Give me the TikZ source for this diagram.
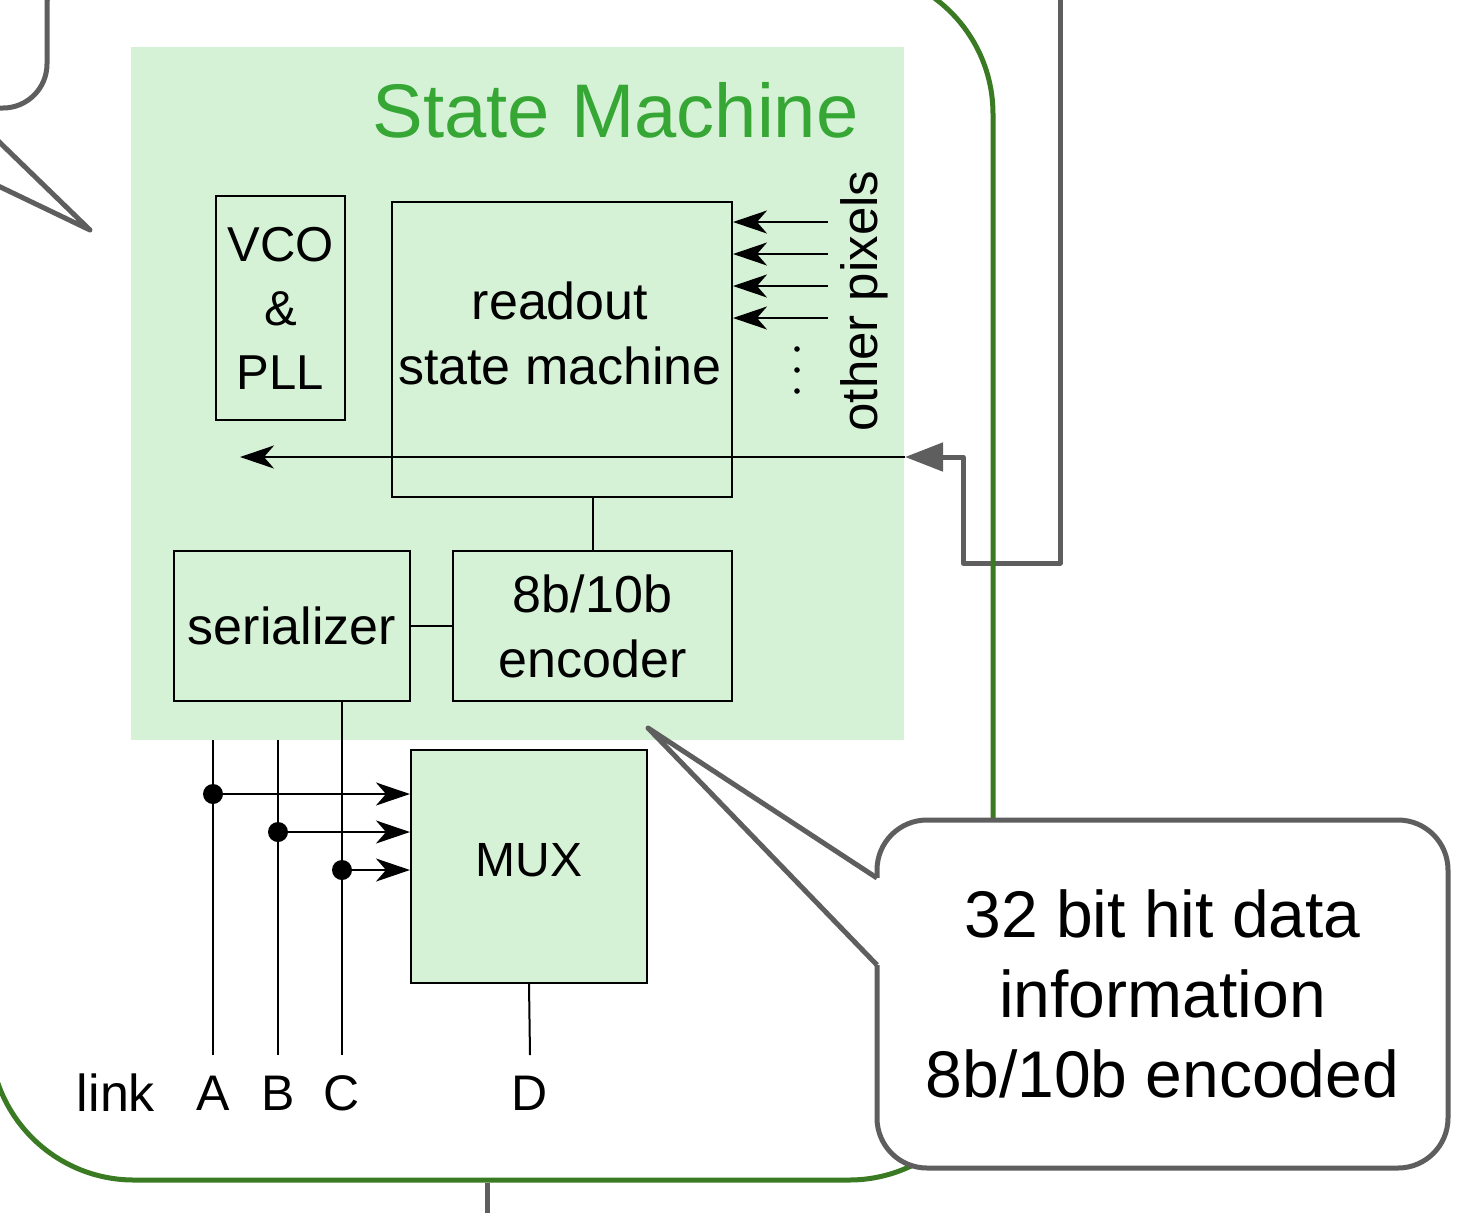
\documentclass[tikz,border=0pt]{standalone}
\usepackage{fontspec}
\setmainfont{Liberation Sans}
\usetikzlibrary{arrows.meta}
\definecolor{smfill}{HTML}{D6F2D6}
\definecolor{smtitle}{HTML}{36A635}
\definecolor{chipgreen}{HTML}{3A7A22}
\definecolor{callgray}{HTML}{5E5E5E}
\begin{document}
\begin{tikzpicture}[x=0.5pt,y=-0.5pt,
  blk/.style={draw=black, line width=1pt, inner sep=0pt, align=center, font=\fontsize{26}{32.5}\selectfont},
  txt/.style={inner sep=0pt, align=center, font=\fontsize{26}{32.5}\selectfont},
  wire/.style={draw=black, line width=1pt},
  arr/.style={wire, -{Stealth[length=17pt,width=11.5pt,inset=5pt]}},
  dotnode/.style={circle, fill=black, inner sep=0pt, minimum size=10pt},
  grayline/.style={draw=callgray, line width=2.5pt},
  callline/.style={draw=callgray, line width=2.5pt, line join=round}]
\useasboundingbox (0,0) rectangle (1462,1212);
\begin{scope}
\clip (0,0) rectangle (1462,1212);
% feedback line from outside
\coordinate (fbtop) at (1060,-10);
\coordinate (fbin) at (905,457);
\coordinate (fbout) at (240,457);
\draw[grayline, line join=round, -{Triangle[length=19pt,width=14pt]}] (fbtop) -- (1060,563) -- (963,563) -- (963,457) -- (fbin);
% chip outline
\node[draw=chipgreen, line width=2.5pt, rounded corners=72pt, inner sep=0pt,
      minimum width=501.5pt, minimum height=605pt] (chip) at (491.5,575) {};
\coordinate (out) at (487,1220);
\draw[grayline] (chip.south -| out) -- (out);
% state machine area
\node[fill=smfill, inner sep=0pt, minimum width=386.5pt, minimum height=346.5pt] (sm) at (517.5,393.5) {};
\node[txt, anchor=east, text=smtitle, font=\fontsize{38}{46}\selectfont] (smt) at (859,110) {State Machine};
% blocks
\node[blk, font=\fontsize{24.5}{32}\selectfont, minimum width=64.5pt, minimum height=112pt] (vco) at (280.5,308) {VCO\\\&\\PLL};
\node[blk, minimum width=170pt, minimum height=147.5pt] (rsm) at (562,349.5) {};
\node[txt] (rsmlbl) at (560,333) {readout\\state machine};
\node[blk, minimum width=118pt, minimum height=75pt] (ser) at (292,626) {serializer};
\node[blk, minimum width=139.5pt, minimum height=75pt] (enc) at (592.5,626) {8b/10b\\encoder};
\node[blk, fill=smfill, minimum width=118pt, minimum height=116.5pt] (mux) at (529,866.5) {};
\node[txt, font=\fontsize{24}{30}\selectfont] (muxlbl) at (529,860) {MUX};
% other pixels inputs
\foreach \y [count=\i] in {222,254,286,318} {
  \coordinate (op\i) at (828,\y);
  \draw[arr] (op\i) -- (op\i -| rsm.east);
}
\foreach \y in {349,370,391} { \fill (797,\y) circle (1.4pt); }
\node[txt, rotate=90, font=\fontsize{25.5}{30}\selectfont] (oplbl) at (864,301) {other pixels};
% internal connections
\draw[arr] (fbin) -- (fbout);
\draw[wire] (enc.north) -- (enc.north |- rsm.south);
\draw[wire] (ser.east) -- (enc.west);
% links
\coordinate (Abot) at (213,1055);
\coordinate (Bbot) at (278,1055);
\coordinate (Cbot) at (342,1055);
\coordinate (Dbot) at (530,1055);
\draw[wire] (sm.south -| Abot) -- (Abot);
\draw[wire] (sm.south -| Bbot) -- (Bbot);
\draw[wire] (ser.south -| Cbot) -- (Cbot);
\draw[wire] (mux.south) -- (Dbot);
\node[dotnode] (dA) at (213,794) {};
\node[dotnode] (dB) at (278,832) {};
\node[dotnode] (dC) at (342,870) {};
\draw[arr] (dA) -- (dA -| mux.west);
\draw[arr] (dB) -- (dB -| mux.west);
\draw[arr] (dC) -- (dC -| mux.west);
\node[txt] (llink) at (116,1093) {link};
\node[txt, font=\fontsize{25}{30}\selectfont] (lA) at (213,1093) {A};
\node[txt, font=\fontsize{25}{30}\selectfont] (lB) at (278,1093) {B};
\node[txt, font=\fontsize{25}{30}\selectfont] (lC) at (342,1093) {C};
\node[txt, font=\fontsize{25}{30}\selectfont] (lD) at (530,1093) {D};
% top-left callout (partly visible)
\draw[callline, fill=white, rounded corners=22pt] (-20,-100) -- (47,-100) -- (47,108) -- (-20,108);
\coordinate (tlA) at (-10,133);
\coordinate (tlTip) at (90,230);
\coordinate (tlB) at (-10,182);
\draw[callline] (tlA) -- (tlTip) -- (tlB);
% bottom-right callout
\node[draw=callgray, line width=2.5pt, fill=white, rounded corners=25pt, inner sep=0pt, align=center,
      font=\fontsize{33}{40}\selectfont, minimum width=285.5pt, minimum height=174pt] (cb) at (1162.5,994)
      {32 bit hit data\\information\\8b/10b encoded};
\coordinate (p1) at (877,878);
\coordinate (p2) at (877,965);
\coordinate (tip) at (648,728);
\fill[white] (p1) -- (tip) -- (p2) -- cycle;
\fill[white] ([xshift=-2pt]p1) rectangle ([xshift=2pt]p2);
\draw[callline] (p1) -- (tip) -- (p2);
\end{scope}
\end{tikzpicture}
\end{document}
